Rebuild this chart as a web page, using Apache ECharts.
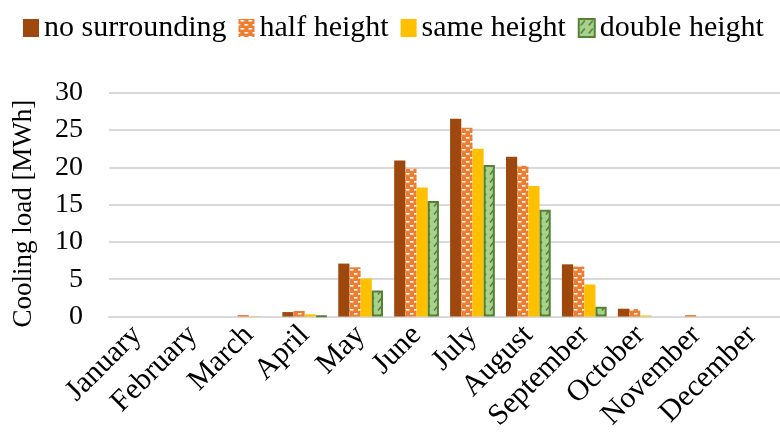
<!DOCTYPE html>
<html>
<head>
<meta charset="utf-8">
<script src="https://cdn.jsdelivr.net/npm/echarts@6/dist/echarts.min.js"></script>
<style>
  html, body { margin: 0; padding: 0; background: #ffffff; }
  #chart { width: 780px; height: 434px; }
</style>
</head>
<body>
<div id="chart"></div>
<script>
// Monthly cooling load per surrounding-building scenario [MWh]
const months = ['January', 'February', 'March', 'April', 'May', 'June',
                'July', 'August', 'September', 'October', 'November', 'December'];
const noSurrounding = [0, 0, 0, 0.6, 7.1, 20.9, 26.5, 21.4, 7.0, 1.05, 0, 0];
const halfHeight    = [0, 0, 0.2, 0.75, 6.6, 19.8, 25.3, 20.2, 6.7, 1.0, 0.2, 0];
const sameHeight    = [0, 0, 0.05, 0.3, 5.1, 17.3, 22.5, 17.5, 4.3, 0.15, 0, 0];
const doubleHeight  = [0, 0, 0, 0.05, 3.5, 15.5, 20.3, 14.3, 1.3, 0, 0, 0];
const seriesNames = ['no surrounding', 'half height', 'same height', 'double height'];
const yTicks = { min: 0, max: 30, step: 5 };

// Orange fill with staggered white dashes
function dashTile() {
  const c = document.createElement('canvas');
  c.width = 8; c.height = 8;
  const g = c.getContext('2d');
  g.fillStyle = '#ED7D31';
  g.fillRect(0, 0, 8, 8);
  g.fillStyle = '#ffffff';
  g.fillRect(2, 1, 3.5, 1.6);
  g.fillRect(6, 5, 3.5, 1.6);
  g.fillRect(-2, 5, 3.5, 1.6);
  return c;
}

// Light green fill with short dark diagonal strokes
function diagTile() {
  const c = document.createElement('canvas');
  c.width = 8; c.height = 8;
  const g = c.getContext('2d');
  g.fillStyle = '#A9D18E';
  g.fillRect(0, 0, 8, 8);
  g.strokeStyle = '#548235';
  g.lineWidth = 1.5;
  g.beginPath();
  g.moveTo(2, 6.5);
  g.lineTo(6, 1.5);
  g.stroke();
  return c;
}

const chart = echarts.init(document.getElementById('chart'), null, { renderer: 'canvas' });
const serif = '"Liberation Serif", "Times New Roman", serif';

const styles = [
  { color: '#9E480E' },
  { color: { image: dashTile(), repeat: 'repeat' } },
  { color: '#FFC000' },
  { color: { image: diagTile(), repeat: 'repeat' }, borderColor: '#548235', borderWidth: 2 }
];
const values = [noSurrounding, halfHeight, sameHeight, doubleHeight];

// Empty months get no outline so bordered bars stay invisible at zero
function toItems(arr) {
  return arr.map(v => (v === 0 ? { value: v, itemStyle: { borderWidth: 0 } } : v));
}

chart.setOption({
  backgroundColor: '#ffffff',
  animation: false,
  legend: {
    left: 18,
    top: 8,
    icon: 'rect',
    itemWidth: 16,
    itemHeight: 18,
    itemGap: 12,
    textStyle: { fontFamily: serif, fontSize: 30, color: '#000000' },
    data: seriesNames
  },
  grid: { left: 109, right: 0, top: 92.7, bottom: 116.7, containLabel: false },
  xAxis: {
    type: 'category',
    data: months,
    axisTick: { show: false },
    axisLine: { lineStyle: { color: '#D9D9D9', width: 2 } },
    axisLabel: {
      interval: 0,
      rotate: 45,
      margin: 14,
      fontFamily: serif,
      fontSize: 30,
      color: '#000000'
    }
  },
  yAxis: {
    type: 'value',
    min: yTicks.min,
    max: yTicks.max,
    interval: yTicks.step,
    name: 'Cooling load [MWh]',
    nameLocation: 'middle',
    nameGap: 72,
    nameTextStyle: { fontFamily: serif, fontSize: 27, color: '#000000', padding: [0, 18, 0, 0] },
    axisLine: { show: false },
    axisTick: { show: false },
    splitLine: { lineStyle: { color: '#D9D9D9', width: 2 } },
    axisLabel: { fontFamily: serif, fontSize: 28, color: '#000000', margin: 26 }
  },
  series: seriesNames.map((name, i) => ({
    name: name,
    type: 'bar',
    data: toItems(values[i]),
    barGap: '0%',
    barCategoryGap: '20%',
    itemStyle: styles[i]
  }))
});
</script>
</body>
</html>
